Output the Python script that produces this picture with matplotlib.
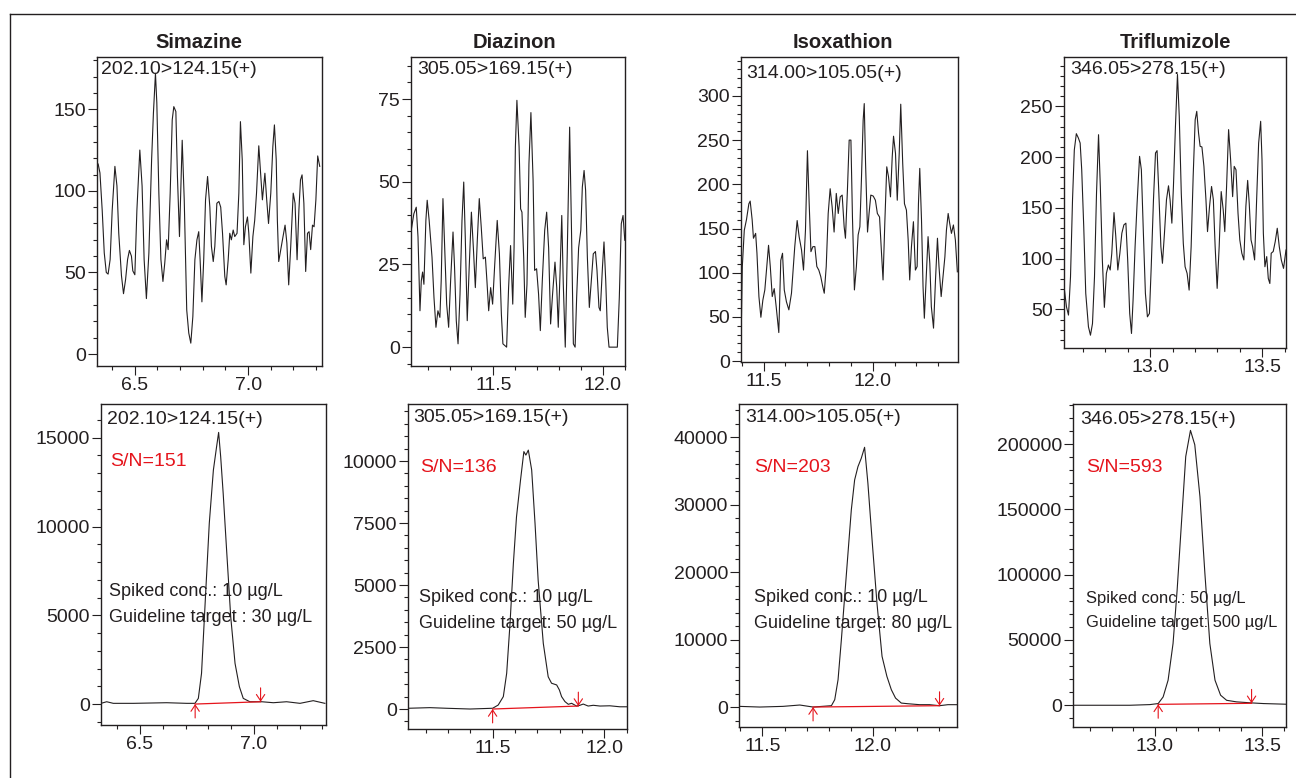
import matplotlib
matplotlib.use("Agg")
import matplotlib.pyplot as plt
from matplotlib.ticker import MultipleLocator, FormatStrFormatter
from matplotlib.lines import Line2D

plt.rcParams['font.family'] = ['Liberation Sans', 'DejaVu Sans']

W, H = 1296, 778
INK = '#231f20'
RED = '#e5141c'

compounds = ["Simazine", "Diazinon", "Isoxathion", "Triflumizole"]
transitions = ["202.10>124.15(+)", "305.05>169.15(+)", "314.00>105.05(+)", "346.05>278.15(+)"]
sn_ratios = [151, 136, 203, 593]
spiked_conc = ["10", "10", "10", "50"]
target_lines = ["Guideline target : 30 µg/L", "Guideline target: 50 µg/L",
                "Guideline target: 80 µg/L", "Guideline target: 500 µg/L"]

# ---- blank (noise) traces, time in min / intensity ----
simazine_blank_t = [6.331, 6.338, 6.346, 6.356, 6.365, 6.374, 6.382, 6.391, 6.400, 6.412, 6.421, 6.429, 6.441,
                    6.450, 6.459, 6.468, 6.476, 6.485, 6.491, 6.500, 6.509, 6.522, 6.532, 6.541, 6.551, 6.562,
                    6.574, 6.582, 6.591, 6.597, 6.606, 6.615, 6.624, 6.632, 6.640, 6.647, 6.656, 6.665, 6.672,
                    6.681, 6.688, 6.697, 6.709, 6.718, 6.729, 6.738, 6.747, 6.756, 6.765, 6.774, 6.782, 6.788,
                    6.796, 6.804, 6.812, 6.821, 6.831, 6.838, 6.846, 6.853, 6.862, 6.871, 6.879, 6.887, 6.897,
                    6.903, 6.912, 6.919, 6.926, 6.934, 6.941, 6.951, 6.959, 6.966, 6.974, 6.981, 6.988, 6.997,
                    7.003, 7.012, 7.021, 7.029, 7.037, 7.047, 7.056, 7.063, 7.074, 7.082, 7.090, 7.100, 7.109,
                    7.116, 7.124, 7.129, 7.135, 7.144, 7.154, 7.163, 7.171, 7.179, 7.188, 7.199, 7.207, 7.216,
                    7.224, 7.231, 7.238, 7.246, 7.254, 7.262, 7.269, 7.276, 7.284, 7.291, 7.299, 7.307, 7.316]
simazine_blank_y = [117, 116.5, 111, 88, 62, 50, 49, 58, 88, 115, 103, 74, 48, 37, 45.5, 58, 63.5, 60, 51, 48.6,
                    88, 125, 103, 58, 34, 62, 119, 147.6, 172, 154, 98.6, 58, 44.5, 55.7, 70, 64, 98.6, 143.5,
                    151.6, 148.6, 108.8, 72, 131, 94.5, 27, 12.9, 6.7, 23, 57.8, 70, 75, 58, 32, 58, 94.5, 108.8,
                    90, 66, 56.7, 66, 92.4, 93.5, 90, 74, 47.6, 42.4, 57.8, 74, 70, 76, 72, 74, 98.6, 142.4, 119,
                    67, 78, 84, 74, 49.6, 72, 82, 98.6, 127.6, 108.8, 94.5, 110.8, 94.5, 80, 98.6, 127, 140.4,
                    119, 82, 56.7, 64, 72, 79, 68, 42.4, 66, 98.6, 92.4, 57.8, 88, 106.7, 109.8, 92.4, 50.6, 74,
                    75, 64, 79, 78, 94.5, 121.4, 115]

diazinon_blank_t = [11.125, 11.137, 11.148, 11.156, 11.165, 11.171, 11.177, 11.183, 11.192, 11.198, 11.207,
                    11.220, 11.229, 11.238, 11.247, 11.256, 11.262, 11.270, 11.278, 11.287, 11.296, 11.305,
                    11.316, 11.323, 11.331, 11.339, 11.348, 11.357, 11.365, 11.372, 11.381, 11.390, 11.400,
                    11.409, 11.418, 11.427, 11.436, 11.445, 11.454, 11.464, 11.471, 11.479, 11.488, 11.497,
                    11.506, 11.518, 11.528, 11.537, 11.544, 11.561, 11.570, 11.579, 11.589, 11.595, 11.601,
                    11.608, 11.618, 11.625, 11.631, 11.639, 11.646, 11.654, 11.663, 11.672, 11.682, 11.689,
                    11.698, 11.707, 11.715, 11.724, 11.735, 11.744, 11.753, 11.762, 11.771, 11.782, 11.790,
                    11.797, 11.805, 11.813, 11.820, 11.829, 11.838, 11.849, 11.857, 11.866, 11.874, 11.881,
                    11.890, 11.900, 11.907, 11.915, 11.922, 11.930, 11.939, 11.948, 11.957, 11.967, 11.974,
                    11.983, 11.989, 11.999, 12.006, 12.014, 12.021, 12.029, 12.067, 12.076, 12.085, 12.093,
                    12.101]
diazinon_blank_y = [35.3, 40.3, 42.3, 33.3, 11, 20, 22.7, 19, 38.3, 44.4, 38.3, 27.2, 15, 6, 11, 9, 20, 44.9, 30,
                    13, 6, 20, 34.8, 24.2, 8, 1, 16, 38.3, 49.9, 33.3, 8, 24.2, 40.8, 30, 18, 32.3, 44.9, 36.3,
                    26.7, 27.2, 20, 11, 18, 13, 24.2, 38.3, 28.2, 10, 1, 0, 18, 30.7, 13, 30, 60.5, 74.6, 60.5,
                    41.8, 40.8, 27.2, 9, 19, 55.4, 70.9, 50.4, 23.2, 23.7, 16, 5, 20, 35.3, 40.8, 30, 7, 16,
                    25.7, 18, 6, 22.2, 39.8, 19, 0, 28.2, 66.5, 37.3, 1, 0, 15, 30, 35.3, 48.4, 53.4, 47.4,
                    27.2, 12, 20, 28.2, 28.9, 23.2, 12, 11, 24.2, 31.8, 20, 6, 0, 0, 15, 37.3, 39.8, 32.3]

isoxathion_blank_t = [11.397, 11.403, 11.412, 11.422, 11.433, 11.439, 11.448, 11.454, 11.464, 11.470, 11.479,
                      11.488, 11.497, 11.506, 11.515, 11.523, 11.531, 11.540, 11.549, 11.558, 11.570, 11.579,
                      11.587, 11.595, 11.605, 11.616, 11.628, 11.643, 11.654, 11.663, 11.674, 11.683, 11.692,
                      11.701, 11.709, 11.717, 11.726, 11.735, 11.744, 11.753, 11.762, 11.771, 11.778, 11.787,
                      11.796, 11.805, 11.814, 11.823, 11.833, 11.842, 11.851, 11.860, 11.869, 11.875, 11.884,
                      11.892, 11.900, 11.907, 11.916, 11.925, 11.933, 11.941, 11.948, 11.956, 11.961, 11.967,
                      11.976, 11.983, 11.991, 12.002, 12.012, 12.021, 12.031, 12.040, 12.047, 12.055, 12.064,
                      12.072, 12.081, 12.089, 12.095, 12.104, 12.112, 12.121, 12.128, 12.137, 12.145, 12.154,
                      12.162, 12.169, 12.177, 12.186, 12.195, 12.203, 12.209, 12.215, 12.223, 12.230, 12.236,
                      12.244, 12.253, 12.261, 12.268, 12.278, 12.287, 12.296, 12.303, 12.313, 12.320, 12.330,
                      12.337, 12.345, 12.352, 12.360, 12.369, 12.378, 12.387]
isoxathion_blank_y = [16.5, 107, 148, 160, 178, 181, 160, 139, 144.5, 122, 73, 49.6, 69, 80.5, 107, 131, 107, 73,
                      82, 61.6, 32.3, 114, 122, 80.5, 67, 58, 76.8, 129.5, 159, 140.8, 125.7, 103, 148, 238, 178,
                      123.8, 129.5, 129.5, 107, 103, 95.6, 84.3, 76.8, 107, 167, 195, 174.6, 146, 189.7, 167,
                      185.8, 187.8, 152, 139, 193.5, 250, 250, 163, 80.5, 107, 142.7, 152, 204.8, 272.5, 291.3,
                      223.6, 146, 167, 187.8, 186.7, 182, 167, 163, 122, 91.8, 155.8, 219.8, 208.5, 185.8, 231,
                      254.4, 234.9, 182, 234.9, 290.6, 223.6, 178, 170.8, 137, 91.8, 129.5, 157.7, 103, 107, 178,
                      218, 159.6, 84.3, 48.5, 91.8, 140.8, 110.6, 61.6, 37.3, 91.8, 139, 107, 73, 91.8, 118, 148,
                      167, 155.8, 144.5, 154, 137, 101]

triflumizole_blank_t = [12.618, 12.627, 12.636, 12.645, 12.654, 12.662, 12.671, 12.680, 12.688, 12.695, 12.704,
                        12.713, 12.725, 12.734, 12.743, 12.752, 12.761, 12.770, 12.778, 12.787, 12.796, 12.805,
                        12.814, 12.822, 12.829, 12.839, 12.847, 12.856, 12.865, 12.874, 12.883, 12.892, 12.900,
                        12.909, 12.917, 12.924, 12.933, 12.942, 12.953, 12.961, 12.970, 12.979, 12.988, 12.997,
                        13.005, 13.015, 13.024, 13.031, 13.039, 13.048, 13.055, 13.064, 13.073, 13.082, 13.089,
                        13.097, 13.104, 13.113, 13.122, 13.130, 13.139, 13.148, 13.156, 13.165, 13.174, 13.183,
                        13.192, 13.201, 13.208, 13.216, 13.223, 13.231, 13.240, 13.249, 13.256, 13.265, 13.274,
                        13.282, 13.290, 13.299, 13.308, 13.317, 13.326, 13.333, 13.341, 13.350, 13.359, 13.368,
                        13.375, 13.383, 13.392, 13.400, 13.409, 13.418, 13.427, 13.435, 13.442, 13.450, 13.457,
                        13.466, 13.475, 13.484, 13.493, 13.499, 13.505, 13.512, 13.520, 13.527, 13.534, 13.540,
                        13.549, 13.558, 13.567, 13.576, 13.585, 13.595, 13.606]
triflumizole_blank_y = [69, 52.6, 44.4, 82, 158, 207, 223, 218.8, 213.8, 187.5, 131.5, 65.8, 32.9, 24.6, 36, 82,
                        164.4, 222, 171, 98.7, 52, 85.5, 93.7, 88.8, 105, 145.3, 121.7, 88.8, 105, 125, 133.2,
                        134.9, 98.7, 46, 26.3, 59, 111.8, 154.6, 200.7, 187.5, 125, 65.8, 42.7, 46, 92, 158, 204,
                        206.3, 164.4, 111.8, 95.4, 125, 158, 171.7, 158, 134.9, 171, 230.3, 281.3, 240, 164.4,
                        115, 92, 85.5, 69, 111.8, 181, 236.8, 245, 223.7, 210.5, 210, 190.8, 158, 126.6, 151.3,
                        171, 158, 111.8, 70.7, 111.8, 166, 148, 126.6, 171, 227, 197.4, 161, 190.8, 187.5, 144.7,
                        118.4, 105.3, 98.7, 151.3, 177, 154.6, 118.4, 111.8, 98.7, 158, 213.8, 235.2, 197.4, 125,
                        92, 102, 80.5, 75.5, 105.3, 107, 116.8, 129.9, 111.8, 98.7, 90.4, 108.5]

# ---- spiked sample traces ----
simazine_spk_t = [6.329, 6.354, 6.383, 6.471, 6.617, 6.705, 6.741, 6.756, 6.770, 6.785, 6.804, 6.822, 6.836,
                  6.845, 6.854, 6.865, 6.880, 6.898, 6.917, 6.936, 6.953, 6.982, 7.034, 7.085, 7.143, 7.202,
                  7.260, 7.311]
simazine_spk_y = [40, 130, 40, 40, 75, 40, 40, 320, 1730, 5480, 10180, 13180, 14490, 15300, 13930, 11860, 8670,
                  4920, 2290, 980, 320, 130, 130, 75, 130, 40, 190, 40]

diazinon_spk_t = [11.122, 11.219, 11.294, 11.399, 11.500, 11.525, 11.548, 11.563, 11.578, 11.593, 11.607,
                  11.625, 11.640, 11.649, 11.660, 11.675, 11.690, 11.704, 11.727, 11.749, 11.764, 11.787,
                  11.799, 11.809, 11.824, 11.839, 11.854, 11.876, 11.891, 11.906, 11.928, 11.951, 11.981,
                  12.025, 12.070, 12.103]
diazinon_spk_y = [30, 55, 30, 0, 30, 160, 500, 1440, 3450, 5870, 7750, 9230, 10380, 10240, 10440, 9640, 7490,
                  5200, 2650, 1300, 1040, 970, 770, 500, 300, 190, 230, 120, 150, 200, 120, 150, 120, 130, 90, 90]

isoxathion_spk_t = [11.395, 11.488, 11.593, 11.669, 11.729, 11.812, 11.827, 11.842, 11.857, 11.880, 11.902,
                    11.917, 11.932, 11.947, 11.962, 11.977, 11.997, 12.018, 12.041, 12.063, 12.083, 12.102,
                    12.128, 12.158, 12.211, 12.256, 12.301, 12.339, 12.380]
isoxathion_spk_y = [100, 0, 100, 300, 0, 200, 1090, 4050, 9980, 19850, 29240, 33680, 35650, 36890, 38520, 33190,
                    24300, 15410, 7510, 4540, 2570, 1330, 590, 490, 350, 350, 200, 350, 350]

triflumizole_spk_t = [12.620, 12.759, 12.884, 12.977, 13.016, 13.039, 13.062, 13.085, 13.104, 13.124, 13.144,
                      13.166, 13.186, 13.210, 13.233, 13.256, 13.280, 13.306, 13.334, 13.380, 13.450, 13.505,
                      13.610]
triflumizole_spk_y = [0, 0, 0, 500, 1300, 6400, 19200, 47300, 88200, 139400, 190500, 210500, 199500, 159800,
                      101000, 47300, 19200, 7700, 3800, 2600, 1800, 1300, 800]

# integration baseline (peak start / end)
bl_start_t = [6.742, 11.500, 11.729, 13.016]
bl_start_y = [0, 0, 0, 700]
bl_end_t = [7.029, 11.884, 12.301, 13.450]
bl_end_y = [130, 120, 200, 1500]

blank_t = [simazine_blank_t, diazinon_blank_t, isoxathion_blank_t, triflumizole_blank_t]
blank_y = [simazine_blank_y, diazinon_blank_y, isoxathion_blank_y, triflumizole_blank_y]
spk_t = [simazine_spk_t, diazinon_spk_t, isoxathion_spk_t, triflumizole_spk_t]
spk_y = [simazine_spk_y, diazinon_spk_y, isoxathion_spk_y, triflumizole_spk_y]

# ---- layout (pixels: left, right, top, bottom) ----
top_boxes = [(97, 322, 57, 366), (411, 625, 57, 366), (741, 958, 57, 362), (1064, 1286, 57, 348)]
bot_boxes = [(101, 326, 404, 725), (408, 627, 404, 729), (739, 957, 404, 727), (1073, 1286, 404, 727)]
top_xlim = [(6.333, 7.326), (11.124, 12.102), (11.397, 12.39), (12.616, 13.606)]
bot_xlim = [(6.329, 7.316), (11.121, 12.102), (11.394, 12.38), (12.62, 13.61)]
top_ylim = [(-7.3, 182), (-5.7, 87.7), (-1, 344), (12, 298.5)]
bot_ylim = [(-1180, 16900), (-806, 12300), (-2960, 44940), (-16650, 230700)]
top_yticks = [(50, 10), (25, 5), (50, 10), (50, 10)]
bot_yticks = [(5000, 1000), (2500, 500), (10000, 2000), (50000, 10000)]

title_pos = [(199, 42), (514, 42), (843, 42), (1175, 42)]
top_label_pos = [(101, 69), (417, 70), (746, 74), (1070, 70)]
bot_label_pos = [(107, 419), (413, 417), (745, 417), (1080, 419)]
sn_pos = [(110, 462), (420, 468), (754, 468), (1086, 468)]
conc_pos = [(109, 592), (419, 598), (754, 598), (1086, 598)]
conc_size = [13, 13, 13, 11.9]


def px(x, y):
    return x / W, 1 - y / H


def make_axes(fig, box, xlim, ylim, yt):
    l, r, t, b = box
    ax = fig.add_axes([l / W, 1 - b / H, (r - l) / W, (b - t) / H])
    ax.set_xlim(*xlim)
    ax.set_ylim(*ylim)
    ax.xaxis.set_major_locator(MultipleLocator(0.5))
    ax.xaxis.set_minor_locator(MultipleLocator(0.1))
    ax.xaxis.set_major_formatter(FormatStrFormatter('%.1f'))
    ax.yaxis.set_major_locator(MultipleLocator(yt[0]))
    ax.yaxis.set_minor_locator(MultipleLocator(yt[1]))
    ax.tick_params(which='major', length=6.5, width=0.8, labelsize=14, pad=1.5,
                   colors=INK, top=False, right=False)
    ax.tick_params(which='minor', length=3, width=0.8, top=False, right=False, colors=INK)
    for s in ax.spines.values():
        s.set_linewidth(1.0)
        s.set_color(INK)
    return ax


fig = plt.figure(figsize=(W / 100, H / 100), dpi=100)

for i in range(4):
    # blank row
    ax = make_axes(fig, top_boxes[i], top_xlim[i], top_ylim[i], top_yticks[i])
    ax.plot(blank_t[i], blank_y[i], color=INK, lw=0.8)
    fig.text(*px(*title_pos[i]), compounds[i], ha='center', va='center',
             fontsize=14.5, fontweight='bold', color=INK)
    fig.text(*px(*top_label_pos[i]), transitions[i], ha='left', va='center', fontsize=14, color=INK)

    # spiked row
    ax = make_axes(fig, bot_boxes[i], bot_xlim[i], bot_ylim[i], bot_yticks[i])
    ax.plot(spk_t[i], spk_y[i], color=INK, lw=0.8)
    ax.plot([bl_start_t[i], bl_end_t[i]], [bl_start_y[i], bl_end_y[i]], color=RED, lw=0.9)
    ax.annotate('', xy=(bl_start_t[i], bl_start_y[i]), xytext=(0, -10), textcoords='offset points',
                arrowprops=dict(arrowstyle='->,head_length=0.45,head_width=0.3', color=RED, lw=0.8,
                                shrinkA=0, shrinkB=0))
    ax.annotate('', xy=(bl_end_t[i], bl_end_y[i]), xytext=(0, 10), textcoords='offset points',
                arrowprops=dict(arrowstyle='->,head_length=0.45,head_width=0.3', color=RED, lw=0.8,
                                shrinkA=0, shrinkB=0))
    fig.text(*px(*bot_label_pos[i]), transitions[i], ha='left', va='center', fontsize=14, color=INK)
    fig.text(*px(*sn_pos[i]), "S/N=%d" % sn_ratios[i], ha='left', va='center', fontsize=14, color=RED)
    cx, cy = conc_pos[i]
    fig.text(*px(cx, cy), "Spiked conc.: %s µg/L" % spiked_conc[i], ha='left', va='center',
             fontsize=conc_size[i], color=INK)
    fig.text(*px(cx, cy + 25), target_lines[i], ha='left', va='center', fontsize=conc_size[i], color=INK)

# outer frame (top and left edges)
fig.add_artist(Line2D([10 / W, 1], [1 - 14 / H, 1 - 14 / H], transform=fig.transFigure, color=INK, lw=1.0))
fig.add_artist(Line2D([10 / W, 10 / W], [0, 1 - 14 / H], transform=fig.transFigure, color=INK, lw=1.0))

fig.savefig('out.png', dpi=100)
